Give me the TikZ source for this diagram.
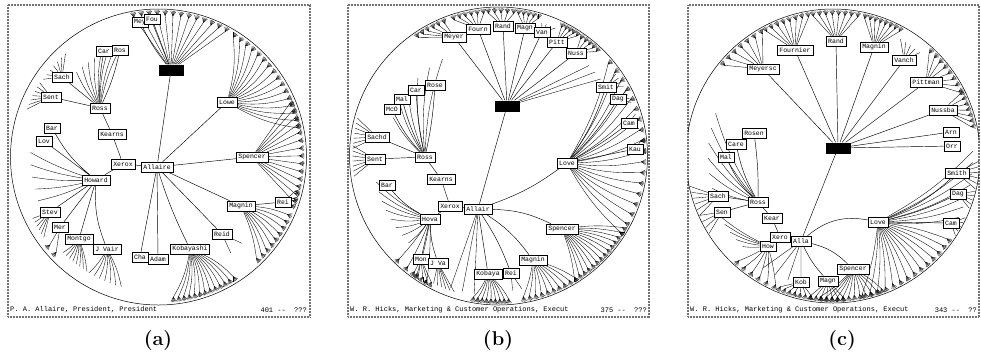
\documentclass[tikz,border=0pt]{standalone}
\usepackage{fontspec}
\newfontfamily\treefont{Liberation Mono}
\pgfdeclarelayer{bg}
\pgfsetlayers{bg,main}
\newcommand\fan[7]{%
  \foreach \k in {1,...,#6}{%
    \pgfmathsetmacro\ang{#4+(#5-#4)*(\k-1)/max(#6-1,1)}%
    \path (#2) ++(\ang:#3) coordinate (#1-\k);
    \draw[leaf] (#1) to[bend left=#7] (#1-\k);
  }}
\newcommand\tuftfan[7]{%
  \fan{#1}{#2}{#3}{#4}{#5}{#6}{#7}%
  \foreach \k in {1,...,#6}{%
    \pgfmathsetmacro\ang{#4+(#5-#4)*(\k-1)/max(#6-1,1)}%
    \foreach \t in {-32,-16,0,16,32}{\draw[leaf] (#1-\k) -- ++(\ang+\t:5);}%
  }}

\begin{document}
\begin{tikzpicture}[x=1pt, y=-1pt,
    box/.style={draw, fill=white, font=\treefont\fontsize{6.5}{7}\selectfont, inner xsep=2.2pt, inner ysep=1.5pt, minimum height=10pt, line width=0.6pt},
    focus/.style={fill=black, minimum width=25pt, minimum height=11pt, inner sep=0pt},
    leaf/.style={line width=0.35pt},
    link/.style={line width=0.45pt},
    panel/.style={draw=black!55, line width=1.3pt, dash pattern=on 1pt off 0.5pt},
    disk/.style={line width=0.5pt},
    status/.style={font=\treefont\fontsize{7}{8}\selectfont, inner sep=0pt},
    caption/.style={font=\fontsize{20}{24}\selectfont\bfseries}
  ]
  \useasboundingbox (0,0) rectangle (981,360);
  \coordinate (ca) at (158.5,157);
  \coordinate (cb) at (498.5,156);
  \coordinate (cc) at (833,156);

  \node[box] (a-allaire) at (157,167) {Allaire};
  \node[focus] (a-focus) at (171,70) {};
  \node[box] (a-mey) at (140,22) {Mey};
  \node[box] (a-fou) at (152,19) {Fou};
  \node[box] (a-car) at (104,51) {Car};
  \node[box] (a-ros) at (120,50) {Ros};
  \node[box] (a-sach) at (62,77) {Sach};
  \node[box] (a-sent) at (51,97) {Sent};
  \node[box] (a-ross) at (100,108) {Ross};
  \node[box] (a-kearns) at (112,134) {Kearns};
  \node[box] (a-bar) at (52,128) {Bar};
  \node[box] (a-lov) at (44,141) {Lov};
  \node[box] (a-xerox) at (123,164) {Xerox};
  \node[box] (a-lowe) at (227,102) {Lowe};
  \node[box] (a-spencer) at (252,157) {Spencer};
  \node[box] (a-howard) at (96,180) {Howard};
  \node[box] (a-stev) at (50,212) {Stev};
  \node[box] (a-mer) at (60,227) {Mer};
  \node[box] (a-montgo) at (79,239) {Montgo};
  \node[box] (a-jvair) at (107,249) {J Vair};
  \node[box] (a-cha) at (140,257) {Cha};
  \node[box] (a-adam) at (158,259) {Adam};
  \node[box] (a-kobayashi) at (190,249) {Kobayashi};
  \node[box] (a-reid) at (222,234) {Reid};
  \node[box] (a-magnin) at (241,206) {Magnin};
  \node[box] (a-rei) at (283,202) {Rei};
  \node[status, anchor=west] (a-status) at (10,310) {P. A. Allaire, President, President};
  \node[status, anchor=east] (a-count) at (307,310) {401 --\ \ ???};
  \node[caption] (a-cap) at (158,340) {(a)};

  \node[box] (b-allair) at (478,209) {Allair};
  \node[focus] (b-focus) at (507,106) {};
  \node[box] (b-meyer) at (454,37) {Meyer};
  \node[box] (b-fourn) at (478,29) {Fourn};
  \node[box] (b-rand) at (503,26) {Rand};
  \node[box] (b-magn) at (525,28) {Magn};
  \node[box] (b-van) at (542,32) {Van};
  \node[box] (b-pitt) at (557,42) {Pitt};
  \node[box] (b-nuss) at (576,53) {Nuss};
  \node[box] (b-smit) at (606,87) {Smit};
  \node[box] (b-dag) at (618,99) {Dag};
  \node[box] (b-cam) at (629,123) {Cam};
  \node[box] (b-kau) at (635,149) {Kau};
  \node[box] (b-love) at (567,163) {Love};
  \node[box] (b-mco) at (392,109) {McO};
  \node[box] (b-mal) at (402,99) {Mal};
  \node[box] (b-car) at (416,90) {Car};
  \node[box] (b-rose) at (435,85) {Rose};
  \node[box] (b-sachd) at (377,137) {Sachd};
  \node[box] (b-sent) at (375,159) {Sent};
  \node[box] (b-ross) at (425,157) {Ross};
  \node[box] (b-kearns) at (441,179) {Kearns};
  \node[box] (b-bar) at (387,185) {Bar};
  \node[box] (b-xerox) at (450,206) {Xerox};
  \node[box] (b-hova) at (430,219) {Hova};
  \node[box] (b-spencer) at (562,229) {Spencer};
  \node[box] (b-mon) at (421,259) {Mon};
  \node[box] (b-jva) at (438,263) {J Va};
  \node[box] (b-magnin) at (533,260) {Magnin};
  \node[box] (b-kobaya) at (488,274) {Kobaya};
  \node[box] (b-rei) at (511,273) {Rei};
  \node[status, anchor=west] (b-status) at (350,310) {W. R. Hicks, Marketing \& Customer Operations, Execut};
  \node[status, anchor=east] (b-count) at (647,310) {375 --\ \ ???};
  \node[caption] (b-cap) at (498,340) {(b)};

  \node[focus] (c-focus) at (838,148) {};
  \node[box] (c-meyersc) at (763,69) {Meyersc};
  \node[box] (c-fournier) at (795,50) {Fournier};
  \node[box] (c-rand) at (836,41) {Rand};
  \node[box] (c-magnin) at (874,47) {Magnin};
  \node[box] (c-vanch) at (904,60) {Vanch};
  \node[box] (c-pittman) at (926,82) {Pittman};
  \node[box] (c-nussba) at (943,110) {Nussba};
  \node[box] (c-arn) at (951,132) {Arn};
  \node[box] (c-orr) at (952,146) {Orr};
  \node[box] (c-smith) at (957,173) {Smith};
  \node[box] (c-rosen) at (754,133) {Rosen};
  \node[box] (c-care) at (736,144) {Care};
  \node[box] (c-mal) at (726,157) {Mal};
  \node[box] (c-sach) at (718,196) {Sach};
  \node[box] (c-sen) at (722,212) {Sen};
  \node[box] (c-ross) at (758,202) {Ross};
  \node[box] (c-kear) at (772,218) {Kear};
  \node[box] (c-how) at (768,246) {How};
  \node[box] (c-xero) at (780,237) {Xero};
  \node[box] (c-alla) at (801,241) {Alla};
  \node[box] (c-love) at (878,222) {Love};
  \node[box] (c-dag) at (958,194) {Dag};
  \node[box] (c-cam) at (951,223) {Cam};
  \node[box] (c-spencer) at (853,269) {Spencer};
  \node[box] (c-kob) at (801,282) {Kob};
  \node[box] (c-magn) at (828,281) {Magn};
  \node[status, anchor=west] (c-status) at (690,310) {W. R. Hicks, Marketing \& Customer Operations, Execut};
  \node[status, anchor=east] (c-count) at (977,310) {343 --\ \ ??};
  \node[caption] (c-cap) at (842,340) {(c)};

  \begin{pgfonlayer}{bg}
    \draw[panel] (8,5) rectangle (310,317);
    \draw[panel] (348,5) rectangle (649,317);
    \draw[panel] (688,5) rectangle (979,317);
    \draw[disk] (ca) circle[radius=148];
    \draw[disk] (cb) circle[radius=149];

    \draw[link] (a-allaire) -- (a-focus) (a-allaire) -- (a-xerox) (a-allaire) -- (a-lowe)
      (a-allaire) -- (a-spencer) (a-allaire) -- (a-magnin) (a-allaire) -- (a-reid)
      (a-allaire) to[bend right=4] (a-kobayashi) (a-allaire) -- (a-adam) (a-allaire) -- (a-cha)
      (a-xerox) -- (a-kearns) (a-kearns) -- (a-ross) (a-xerox) -- (a-howard)
      (a-ross) -- (a-sach) (a-ross) -- (a-sent) (a-ross) to[bend left=6] (a-car) (a-ross) to[bend right=6] (a-ros)
      (a-howard) to[bend left=10] (a-bar) (a-howard) -- (a-lov) (a-howard) -- (a-stev) (a-howard) -- (a-mer)
      (a-howard) -- (a-montgo) (a-howard) to[bend right=12] (a-jvair) (a-magnin) -- (a-rei)
      (a-focus) to[bend left=6] (a-mey) (a-focus) -- (a-fou);
    \tuftfan{a-focus}{ca}{142}{-100}{-62}{13}{0}
    \tuftfan{a-lowe}{ca}{141}{-58}{-12}{16}{-10}
    \tuftfan{a-spencer}{ca}{141}{-22}{18}{14}{0}
    \tuftfan{a-magnin}{ca}{141}{24}{46}{9}{8}
    \tuftfan{a-rei}{ca}{141}{14}{20}{3}{0}
    \fan{a-reid}{ca}{120}{46}{53}{2}{0}
    \tuftfan{a-kobayashi}{ca}{141}{58}{84}{13}{10}
    \fan{a-jvair}{ca}{135}{106}{121}{7}{8}
    \fan{a-montgo}{ca}{135}{122}{135}{8}{6}
    \tuftfan{a-mer}{ca}{140}{137}{141}{2}{0}
    \fan{a-stev}{ca}{140}{145}{154}{6}{0}
    \fan{a-howard}{ca}{128}{160}{182}{5}{5}
    \fan{a-sent}{ca}{140}{200}{212}{7}{0}
    \fan{a-sach}{ca}{139}{214}{228}{7}{0}
    \fan{a-ross}{ca}{118}{226}{252}{8}{8}

    \draw[link] (b-allair) -- (b-focus) (b-allair) -- (b-xerox) (b-allair) to[bend right=8] (b-love)
      (b-allair) to[bend left=12] (b-spencer) (b-allair) to[bend left=10] (b-magnin)
      (b-allair) -- (b-kobaya) (b-allair) to[bend left=6] (b-rei)
      (b-xerox) -- (b-kearns) (b-kearns) -- (b-ross) (b-xerox) -- (b-hova)
      (b-ross) -- (b-sachd) (b-ross) -- (b-sent) (b-ross) to[bend left=8] (b-mco) (b-ross) to[bend left=6] (b-mal)
      (b-ross) to[bend left=4] (b-car) (b-ross) to[bend right=4] (b-rose)
      (b-hova) to[bend left=10] (b-bar) (b-hova) -- (b-mon) (b-hova) to[bend right=8] (b-jva)
      (b-focus) -- (b-meyer) (b-focus) -- (b-fourn) (b-focus) -- (b-rand) (b-focus) -- (b-magn)
      (b-focus) -- (b-van) (b-focus) -- (b-pitt) (b-focus) -- (b-nuss)
      (b-love) to[bend right=8] (b-smit) (b-love) to[bend right=6] (b-dag) (b-love) to[bend right=4] (b-cam) (b-love) -- (b-kau);
    \tuftfan{b-meyer}{cb}{143}{-124}{-112}{6}{0}
    \tuftfan{b-fourn}{cb}{143}{-108}{-96}{6}{0}
    \tuftfan{b-rand}{cb}{143}{-94}{-84}{5}{0}
    \tuftfan{b-magn}{cb}{143}{-82}{-74}{5}{0}
    \fan{b-van}{cb}{140}{-72}{-66}{4}{0}
    \tuftfan{b-pitt}{cb}{143}{-64}{-57}{5}{0}
    \tuftfan{b-nuss}{cb}{143}{-55}{-47}{5}{0}
    \fan{b-focus}{cb}{128}{-45}{-37}{3}{0}
    \fan{b-smit}{cb}{143}{-35}{-29}{4}{0}
    \fan{b-dag}{cb}{143}{-27}{-22}{4}{0}
    \fan{b-cam}{cb}{143}{-17}{-11}{4}{0}
    \tuftfan{b-kau}{cb}{143}{-6}{-2}{2}{0}
    \tuftfan{b-love}{cb}{143}{-40}{32}{18}{-8}
    \tuftfan{b-spencer}{cb}{143}{30}{58}{14}{6}
    \tuftfan{b-magnin}{cb}{143}{58}{80}{10}{6}
    \tuftfan{b-kobaya}{cb}{143}{86}{100}{9}{8}
    \fan{b-rei}{cb}{135}{80}{84}{2}{0}
    \fan{b-allair}{cb}{140}{100}{110}{3}{0}
    \fan{b-hova}{cb}{125}{136}{168}{8}{8}
    \tuftfan{b-hova}{cb}{143}{120}{134}{4}{4}
    \tuftfan{b-mon}{cb}{143}{118}{126}{5}{0}
    \fan{b-jva}{cb}{143}{108}{117}{6}{0}
    \fan{b-sachd}{cb}{146}{183}{195}{7}{0}
    \fan{b-sent}{cb}{146}{172}{184}{7}{0}
    \fan{b-ross}{cb}{112}{200}{240}{6}{8}

    \begin{scope}
      \clip (688,5) rectangle (979,317);
      \draw[disk] (cc) circle[radius=147];
      \draw[link] (c-focus) -- (c-meyersc) (c-focus) -- (c-fournier) (c-focus) -- (c-rand)
        (c-focus) -- (c-magnin) (c-focus) -- (c-vanch) (c-focus) -- (c-pittman) (c-focus) -- (c-nussba)
        (c-focus) -- (c-arn) (c-focus) -- (c-orr) (c-focus) -- (c-alla)
        (c-alla) -- (c-xero) (c-alla) to[bend left=25] (c-love) (c-alla) to[bend left=15] (c-spencer)
        (c-alla) to[bend right=8] (c-magn) (c-alla) -- (c-kob)
        (c-xero) -- (c-kear) (c-kear) -- (c-ross) (c-xero) -- (c-how)
        (c-ross) -- (c-sach) (c-ross) -- (c-sen) (c-ross) to[bend left=10] (c-mal)
        (c-ross) to[bend left=8] (c-care) (c-ross) to[bend right=4] (c-rosen)
        (c-love) to[bend right=10] (c-smith) (c-love) to[bend right=6] (c-dag) (c-love) -- (c-cam);
      \tuftfan{c-meyersc}{cc}{141}{-140}{-120}{7}{0}
      \tuftfan{c-fournier}{cc}{141}{-118}{-100}{8}{0}
      \tuftfan{c-rand}{cc}{141}{-98}{-80}{8}{0}
      \tuftfan{c-magnin}{cc}{141}{-77}{-62}{8}{0}
      \fan{c-vanch}{cc}{135}{-60}{-50}{5}{0}
      \tuftfan{c-pittman}{cc}{141}{-47}{-27}{8}{0}
      \tuftfan{c-nussba}{cc}{141}{-26}{-12}{7}{0}
      \fan{c-smith}{cc}{146}{2}{13}{6}{0}
      \fan{c-dag}{cc}{146}{14}{21}{5}{0}
      \fan{c-cam}{cc}{146}{25}{33}{5}{0}
      \fan{c-love}{cc}{140}{-2}{26}{7}{-8}
      \tuftfan{c-love}{cc}{141}{36}{78}{14}{6}
      \tuftfan{c-spencer}{cc}{141}{70}{95}{12}{6}
      \tuftfan{c-magn}{cc}{141}{86}{99}{7}{0}
      \tuftfan{c-kob}{cc}{141}{99}{112}{7}{0}
      \fan{c-alla}{cc}{132}{110}{122}{3}{0}
      \tuftfan{c-how}{cc}{141}{114}{132}{6}{4}
      \fan{c-how}{cc}{128}{135}{152}{5}{6}
      \fan{c-sach}{cc}{146}{156}{168}{6}{0}
      \fan{c-sen}{cc}{146}{148}{156}{4}{0}
      \fan{c-ross}{cc}{125}{165}{200}{6}{8}
    \end{scope}
  \end{pgfonlayer}
\end{tikzpicture}
\end{document}
